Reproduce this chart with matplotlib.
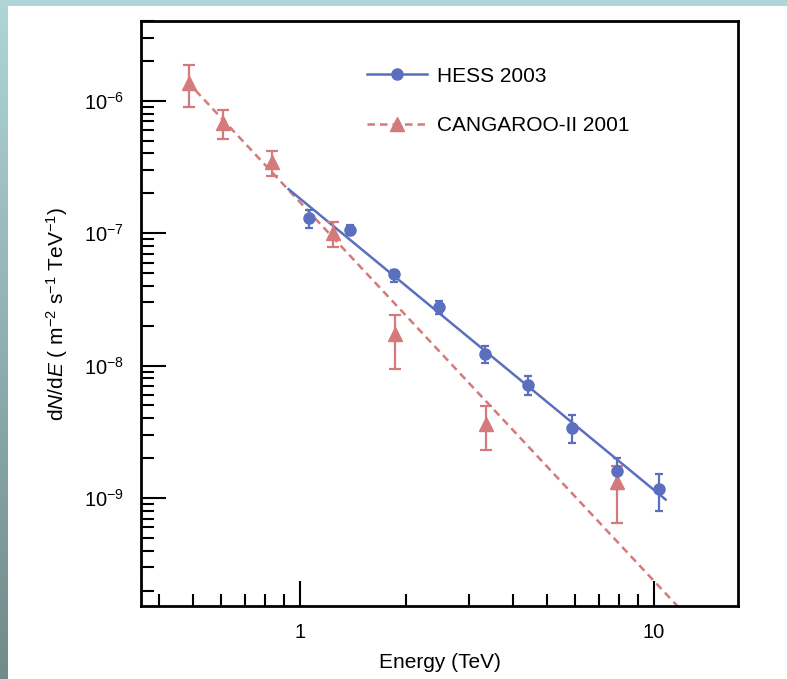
import numpy as np
import matplotlib
matplotlib.use("Agg")
import matplotlib.pyplot as plt
from matplotlib.colors import LinearSegmentedColormap
from matplotlib.patches import Rectangle

plt.rcParams['font.family'] = ['Liberation Sans', 'DejaVu Sans']
plt.rcParams['mathtext.fontset'] = 'custom'
plt.rcParams['mathtext.rm'] = 'Liberation Sans'
plt.rcParams['mathtext.it'] = 'Liberation Sans:italic'
plt.rcParams['mathtext.bf'] = 'Liberation Sans:bold'

# ---------HESS 2003 points (TeV, m^-2 s^-1 TeV^-1)---------
hess_e = [1.06, 1.39, 1.85, 2.48, 3.33, 4.42, 5.89, 7.85, 10.35]
hess_f = [1.31e-7, 1.05e-7, 4.9e-8, 2.75e-8, 1.22e-8, 7.1e-9, 3.4e-9, 1.6e-9, 1.18e-9]
hess_hi = [1.5e-7, 1.15e-7, 5.3e-8, 3.06e-8, 1.4e-8, 8.3e-9, 4.2e-9, 2.0e-9, 1.53e-9]
hess_lo = [1.09e-7, 9.7e-8, 4.3e-8, 2.47e-8, 1.05e-8, 6.0e-9, 2.6e-9, 1.17e-9, 8.0e-10]
hess_norm, hess_index = 1.83e-7, 2.2
hess_range = [0.93, 10.8]

# ---------CANGAROO-II 2001 points---------
cang_e = [0.487, 0.605, 0.835, 1.24, 1.855, 3.35, 7.85]
cang_f = [1.35e-6, 6.8e-7, 3.46e-7, 1.0e-7, 1.73e-8, 3.6e-9, 1.32e-9]
cang_hi = [1.86e-6, 8.5e-7, 4.2e-7, 1.22e-7, 2.4e-8, 4.97e-9, 1.75e-9]
cang_lo = [9.0e-7, 5.1e-7, 2.72e-7, 7.8e-8, 9.35e-9, 2.3e-9, 6.5e-10]
cang_norm, cang_index = 1.72e-7, 2.86
cang_range = [0.48, 20.0]

x_ticks = [1, 10]
y_ticks = [1e-9, 1e-8, 1e-7, 1e-6]

blue = '#5a6fbe'
red = '#d47a7a'

fig = plt.figure(figsize=(7.87, 6.79), dpi=100, facecolor='white')

# teal strips along top and left edge
fig.patches.append(Rectangle((0, 1 - 6 / 679), 1, 6 / 679, transform=fig.transFigure,
                             facecolor='#b0d5d7', edgecolor='none', zorder=0))
grad = LinearSegmentedColormap.from_list('edge', ['#718a8a', '#b0d5d7'])
strip = grad(np.linspace(0, 1, 679))[:, None, :3] * np.ones((1, 8, 1))
fig.figimage(strip, xo=0, yo=0, origin='lower', zorder=1)

ax = fig.add_axes([141 / 787, 1 - 606 / 679, 597 / 787, 585 / 679])
ax.set_xscale('log')
ax.set_yscale('log')

# power-law fits
e = np.logspace(np.log10(cang_range[0]), np.log10(cang_range[1]), 200)
ax.plot(e, cang_norm * e ** -cang_index, color=red, lw=1.8, dashes=(3, 2))
e = np.logspace(np.log10(hess_range[0]), np.log10(hess_range[1]), 200)
ax.plot(e, hess_norm * e ** -hess_index, color=blue, lw=1.8)

cf = np.array(cang_f)
ax.errorbar(cang_e, cf, yerr=[cf - np.array(cang_lo), np.array(cang_hi) - cf],
            fmt='^', color=red, ms=10, capsize=4, elinewidth=1.6, capthick=1.6)
hf = np.array(hess_f)
ax.errorbar(hess_e, hf, yerr=[hf - np.array(hess_lo), np.array(hess_hi) - hf],
            fmt='o', color=blue, ms=8, capsize=3, elinewidth=1.6, capthick=1.6)

# legend entries
h1, = ax.plot([], [], color=blue, lw=1.8, marker='o', ms=8)
h2, = ax.plot([], [], color=red, lw=1.8, dashes=(3, 2), marker='^', ms=10)
ax.legend([h1, h2], ['HESS 2003', 'CANGAROO-II 2001'], loc='upper left',
          bbox_to_anchor=(0.378, 0.922), frameon=False, fontsize=15,
          handlelength=2.9, handletextpad=0.5, labelspacing=1.45,
          borderpad=0, borderaxespad=0)

ax.set_xlim(0.356, 17.3)
ax.set_ylim(1.53e-10, 4.0e-6)
ax.set_xticks(x_ticks)
ax.set_xticklabels(['%g' % v for v in x_ticks])
ax.set_yticks(y_ticks)
ax.set_yticklabels([r'$10^{%d}$' % round(np.log10(v)) for v in y_ticks])
ax.xaxis.set_minor_formatter(matplotlib.ticker.NullFormatter())
ax.yaxis.set_minor_formatter(matplotlib.ticker.NullFormatter())

for s in ax.spines.values():
    s.set_linewidth(2)
ax.tick_params(which='both', direction='in', top=False, right=False, width=1.5,
               labelsize=14.5)
ax.tick_params(which='major', length=18, pad=12)
ax.tick_params(which='minor', length=9)

ax.set_xlabel('Energy (TeV)', fontsize=15, labelpad=8)
ax.set_ylabel(r'd$N$/d$E$ ( m$^{-2}$ s$^{-1}$ TeV$^{-1}$)', fontsize=15, labelpad=10)

fig.savefig('out.png', dpi=100, facecolor='white')
